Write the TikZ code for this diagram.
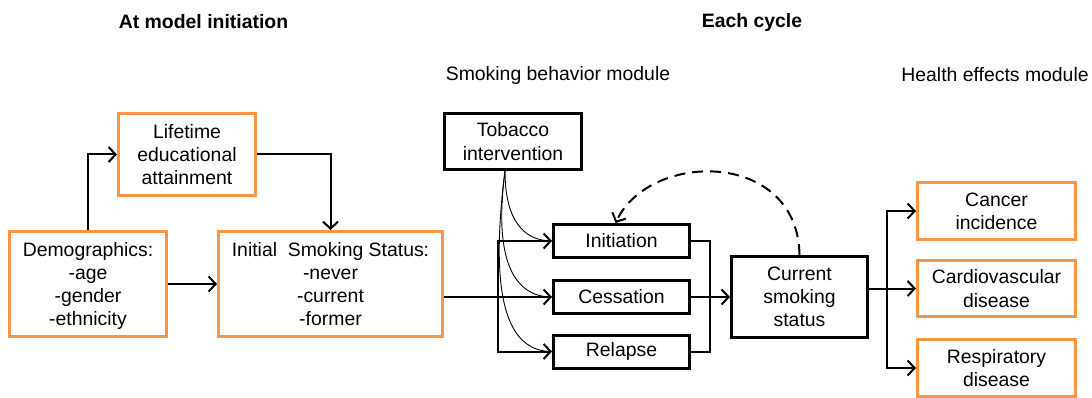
\documentclass[tikz,border=0pt]{standalone}
\usepackage{fontspec}
\setmainfont{Liberation Sans}
\usetikzlibrary{arrows.meta}
\definecolor{boxorange}{RGB}{247,150,70}
\begin{document}
\begin{tikzpicture}[x=1pt,y=-1pt,
  every node/.style={font=\fontsize{19.4}{23.3}\selectfont, align=center, inner sep=0pt},
  obox/.style={draw=boxorange, line width=3pt, rectangle},
  kbox/.style={draw=black, line width=3pt, rectangle},
  arr/.style={line width=2pt, -{Straight Barb[length=7pt,width=15pt,line width=2pt]}},
  conn/.style={line width=2pt},
  thin curve/.style={line width=0.9pt},
  dashline/.style={line width=2pt, dash pattern=on 11pt off 7pt, -{Straight Barb[length=7pt,width=15pt,line width=2pt]}}
]
\useasboundingbox (0,0) rectangle (1092,398);

% titles
\node[font=\fontsize{19.4}{23.3}\selectfont\bfseries] (t1) at (203.5,22) {At model initiation};
\node[font=\fontsize{19.4}{23.3}\selectfont\bfseries] (t2) at (752,22) {Each cycle};
\node (t3) at (558,75) {Smoking behavior module};
\node (t4) at (995,75) {Health effects module};

% left part
\node[obox, minimum width=137pt, minimum height=82pt] (life) at (187,154.5) {Lifetime\\educational\\attainment};
\node[obox, minimum width=157pt, minimum height=105pt, text depth=-6pt] (demo) at (88,284) {Demographics:\\-age\\-gender\\-ethnicity};
\node[obox, minimum width=224pt, minimum height=105pt, text depth=-6pt] (init) at (330.5,284) {Initial\ \ Smoking Status:\\-never\\-current\\-former};

% smoking behaviour module
\node[kbox, minimum width=137pt, minimum height=56pt] (tob) at (513,141.5) {Tobacco\\intervention};
\node[kbox, minimum width=136pt, minimum height=33pt] (ini) at (621.5,241) {Initiation};
\node[kbox, minimum width=136pt, minimum height=33pt] (ces) at (621.5,297) {Cessation};
\node[kbox, minimum width=136pt, minimum height=33pt] (rel) at (621.5,351.5) {Relapse};
\node[kbox, minimum width=136pt, minimum height=81pt] (cur) at (799.5,297) {Current\\smoking\\status};

% health effects module
\node[obox, minimum width=158pt, minimum height=57pt] (can) at (996.5,211) {Cancer\\incidence};
\node[obox, minimum width=158pt, minimum height=56pt] (car) at (996.5,288.5) {Cardiovascular\\disease};
\node[obox, minimum width=158pt, minimum height=57pt] (res) at (996.5,368) {Respiratory\\disease};

% left connectors
\draw[arr] (demo.north) |- (life.west);
\draw[arr] (life.east) -| (init.north);
\draw[arr] (demo.east) -- (init.west);

% into behaviour boxes
\coordinate (sp) at (498,297);
\draw[arr] (init.east |- ces.west) -- (ces.west);
\draw[arr] (sp) |- (ini.west);
\draw[arr] (sp) |- (rel.west);

% tobacco curves
\coordinate (ts) at (505,171);
\draw[thin curve] (ts) .. controls (505,222) and (525,241) .. (ini.west);
\draw[thin curve] (ts) .. controls (493,262) and (515,297) .. (ces.west);
\draw[thin curve] (ts) .. controls (488,305) and (510,351.5) .. (rel.west);

% merge to current status
\coordinate (mg) at (710,297);
\draw[conn] (ini.east) -| (mg) |- (rel.east);
\draw[arr] (ces.east) -- (cur.west);

% dashed feedback
\draw[dashline] (cur.north) .. controls (798,150) and (650,150) .. ([xshift=-6pt]ini.north);

% health effects
\coordinate (hb) at (887,288.5);
\draw[conn] (cur.east |- car.west) -- (hb);
\draw[arr] (hb) |- (can.west);
\draw[arr] (hb) -- (car.west);
\draw[arr] (hb) |- (res.west);
\end{tikzpicture}
\end{document}
